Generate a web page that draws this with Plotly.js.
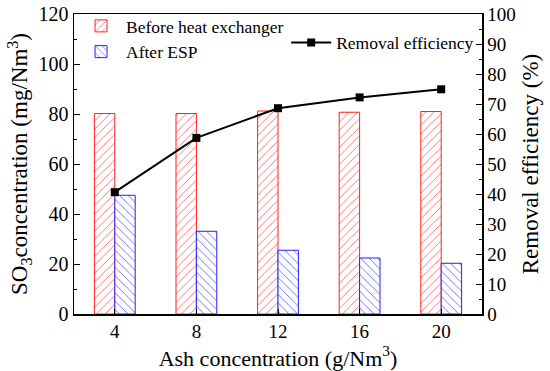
<!DOCTYPE html>
<html><head><meta charset="utf-8">
<script src="https://cdn.plot.ly/plotly-3.0.1.min.js"></script>
<style>html,body{margin:0;padding:0;background:#fff}</style>
</head><body>
<div id="chart" style="width:550px;height:371px"></div>
<script>
const ashConc = [4, 8, 12, 16, 20];
const beforeHX = [80.2, 80.2, 81.2, 80.7, 81.0];
const afterESP = [47.5, 33.1, 25.5, 22.4, 20.3];
const removalEff = [40.6, 58.7, 68.6, 72.2, 74.9];

const FONT = 'Liberation Serif, Times New Roman, serif';

const traces = [
  {type:'bar', x:ashConc, y:beforeHX, name:'Before heat exchanger', width:1, offset:-1,
   marker:{color:'white', line:{color:'#ff2020', width:1},
     pattern:{shape:'/', fgcolor:'#ff4040', bgcolor:'white', size:6, solidity:0.12}},
   legend:'legend'},
  {type:'bar', x:ashConc, y:afterESP, name:'After ESP', width:1, offset:0,
   marker:{color:'white', line:{color:'#2020ff', width:1},
     pattern:{shape:'\\', fgcolor:'#4040ff', bgcolor:'white', size:6, solidity:0.12}},
   legend:'legend'},
  {type:'scatter', mode:'lines+markers', x:ashConc, y:removalEff, yaxis:'y2', name:'Removal efficiency',
   line:{color:'black', width:2}, marker:{symbol:'square', size:8, color:'black'},
   legend:'legend2'}
];

const layout = {
  width:550, height:371,
  margin:{l:74, r:68, t:14, b:57, autoexpand:false},
  paper_bgcolor:'white', plot_bgcolor:'white',
  font:{family:FONT, size:19, color:'black'},
  barmode:'overlay',
  showlegend:true,
  xaxis:{range:[2,22], tickvals:ashConc, ticks:'inside', ticklen:5, tickcolor:'black',
    showline:true, linecolor:'black', linewidth:1.5, mirror:true, showgrid:false, zeroline:false,
    tickfont:{family:FONT, size:19},
    title:{text:'Ash concentration (g/Nm<sup>3</sup>)', font:{family:FONT, size:22}, standoff:1}},
  yaxis:{range:[0,120], dtick:20, ticks:'inside', ticklen:6, tickcolor:'black',
    minor:{dtick:10, ticks:'inside', ticklen:3, tickcolor:'black'},
    showline:true, linecolor:'black', linewidth:1.5, showgrid:false, zeroline:false,
    tickfont:{family:FONT, size:20},
    title:{text:'SO<sub>3</sub>concentration (mg/Nm<sup>3</sup>)', font:{family:FONT, size:23}, standoff:4}},
  yaxis2:{range:[0,100], dtick:10, overlaying:'y', side:'right', ticks:'inside', ticklen:6, tickcolor:'black',
    minor:{dtick:5, ticks:'inside', ticklen:3, tickcolor:'black'},
    showline:true, linecolor:'black', linewidth:1.5, showgrid:false, zeroline:false,
    tickfont:{family:FONT, size:19},
    title:{text:'Removal efficiency (%)', font:{family:FONT, size:23}, standoff:7}},
  legend:{x:0.005, y:1.02, xanchor:'left', yanchor:'top', bgcolor:'rgba(0,0,0,0)',
    font:{family:FONT, size:17.5}, itemwidth:40, tracegroupgap:0},
  legend2:{x:0.52, y:0.965, xanchor:'left', yanchor:'top', bgcolor:'rgba(0,0,0,0)',
    font:{family:FONT, size:17.5}, itemwidth:40}
};

Plotly.newPlot('chart', traces, layout, {displayModeBar:false, staticPlot:true});
</script>
</body></html>
